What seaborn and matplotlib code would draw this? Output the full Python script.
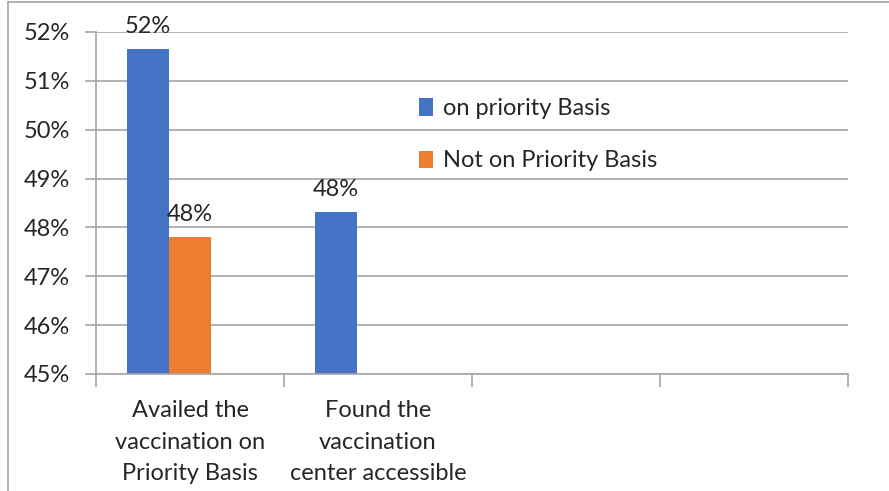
import matplotlib
matplotlib.use("Agg")
import matplotlib.pyplot as plt
from matplotlib.lines import Line2D
from matplotlib.ticker import PercentFormatter, FixedLocator, NullFormatter
import numpy as np
import pandas as pd
import seaborn as sns

# Survey categories (the last two slots are empty in the chart)
categories = ["Availed the\nvaccination on\nPriority Basis",
              "Found the\nvaccination\ncenter accessible",
              "", " "]
series = ["on priority Basis", "Not on Priority Basis", "Series3"]
on_priority = [0.5165, 0.4831, np.nan, np.nan]
not_priority = [0.478, np.nan, np.nan, np.nan]
series3 = [np.nan, np.nan, np.nan, np.nan]
colors = ["#4472C4", "#ED7D31", "#A5A5A5"]

rows = []
for s, vals in zip(series, [on_priority, not_priority, series3]):
    for c, v in zip(categories, vals):
        rows.append({"category": c, "series": s, "value": v})
df = pd.DataFrame(rows)

sns.set_theme(style="white")
plt.rcParams["font.family"] = ["Lato", "DejaVu Sans"]

FS = 17
TXT = "#262626"
GRID = "#A6A6A6"

fig = plt.figure(figsize=(8.89, 4.91), dpi=100)
ax = fig.add_axes([96/889, 1-374/491, (848-96)/889, (374-32)/491])

sns.barplot(data=df, x="category", y="value", hue="series",
            order=categories, hue_order=series, palette=colors,
            width=0.67, dodge=True, ax=ax, saturation=1, legend=True,
            linewidth=0)

ax.set_ylim(0.45, 0.52)
ax.set_xlim(-0.5, 3.5)
ax.yaxis.set_major_formatter(PercentFormatter(1.0, decimals=0))
ax.set_yticks(np.arange(0.45, 0.5201, 0.01))
ax.grid(axis="y", color=GRID, linewidth=1.2)
ax.set_axisbelow(True)

for side in ["top", "right"]:
    ax.spines[side].set_visible(False)
for side in ["left", "bottom"]:
    ax.spines[side].set_color(GRID)
    ax.spines[side].set_linewidth(1.2)

ax.tick_params(axis="y", which="major", left=True, length=8, width=1.2,
               color=GRID, labelsize=FS, labelcolor=TXT, pad=11)
ax.tick_params(axis="x", which="major", bottom=False, labelsize=FS,
               labelcolor=TXT, pad=13)
ax.xaxis.set_minor_locator(FixedLocator([-0.5, 0.5, 1.5, 2.5, 3.5]))
ax.xaxis.set_minor_formatter(NullFormatter())
ax.tick_params(axis="x", which="minor", bottom=True, length=9, width=1.2,
               color=GRID)
for lbl in ax.get_xticklabels():
    lbl.set_linespacing(1.62)
ax.set_xlabel("")
ax.set_ylabel("")

# Value labels above each bar
for cont in ax.containers:
    for bar in cont:
        h = bar.get_height()
        if np.isfinite(h) and h > 0:
            ax.annotate(f"{h*100:.0f}%", (bar.get_x() + bar.get_width()/2, h),
                        xytext=(0, 9), textcoords="offset points",
                        ha="center", va="bottom", fontsize=FS,
                        color=TXT, clip_on=False)

handles, labels = ax.get_legend_handles_labels()
ax.legend(handles[:2], labels[:2], loc="upper left",
          bbox_to_anchor=((398-96)/752, (374-77)/342), frameon=False,
          fontsize=FS, labelspacing=1.32, handlelength=0.6,
          handleheight=0.75, handletextpad=0.4, labelcolor=TXT)

# Chart frame
fig.add_artist(Line2D([8/889, 1], [1-2/491, 1-2/491], color=GRID,
                      linewidth=1.2, transform=fig.transFigure))
fig.add_artist(Line2D([8/889, 8/889], [0, 1-2/491], color=GRID,
                      linewidth=1.2, transform=fig.transFigure))

fig.savefig("out.png", dpi=100)
